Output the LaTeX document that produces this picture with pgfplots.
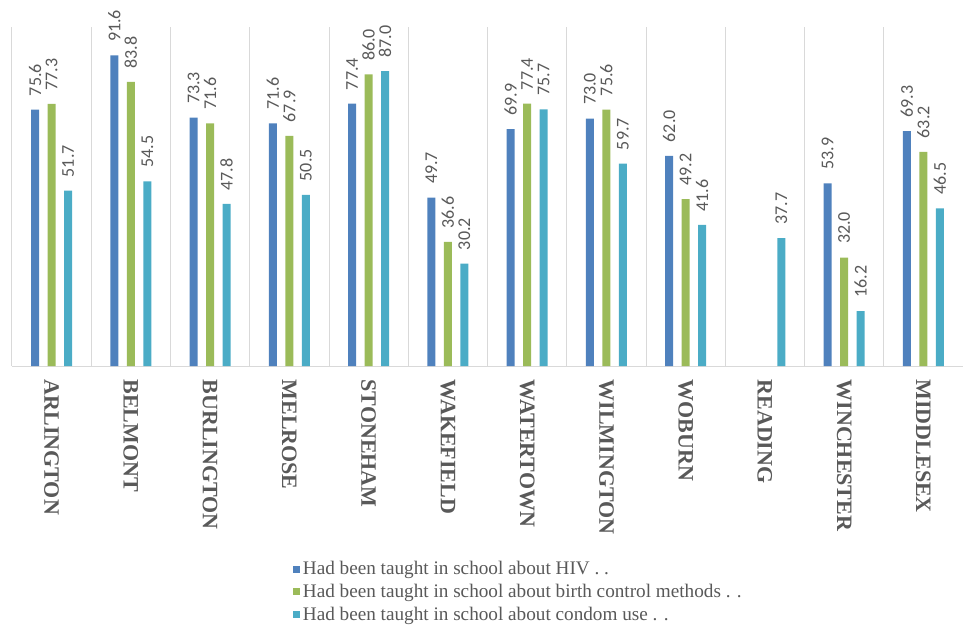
\documentclass[border=0pt]{standalone}
\usepackage{pgfplots}
\pgfplotsset{compat=1.18}
\usepackage{fontspec}
\setmainfont{Liberation Serif}
\newfontfamily\labfont{Carlito}
\definecolor{cblue}{HTML}{4F81BD}
\definecolor{cgreen}{HTML}{9BBB59}
\definecolor{ccyan}{HTML}{4BACC6}
\definecolor{txt}{HTML}{595959}
\definecolor{grd}{HTML}{D9D9D9}
\begin{document}
\begin{tikzpicture}
\path[use as bounding box] (-9pt,-200.25pt) rectangle (713.25pt,274.5pt);
\begin{axis}[
  scale only axis, width=713.25pt, height=254.25pt,
  at={(0,0)}, anchor=south west,
  ybar=6.4pt, bar width=6pt,
  xmin=-0.5, xmax=11.5, ymin=0, ymax=100,
  axis y line=none, axis x line*=bottom,
  x axis line style={grd, line width=0.75pt},
  xtick={0,...,11},
  xticklabels={ARLINGTON,BELMONT,BURLINGTON,MELROSE,STONEHAM,WAKEFIELD,WATERTOWN,WILMINGTON,WOBURN,READING,WINCHESTER,MIDDLESEX},
  minor xtick={-0.5,0.5,...,11.5},
  xminorgrids, minor grid style={grd, line width=0.75pt},
  major tick length=0pt, minor tick length=0pt,
  xticklabel style={rotate=-90, anchor=west, inner xsep=10pt, font=\fontsize{16.5}{18}\selectfont\bfseries, text=txt},
  /pgf/number format/fixed, /pgf/number format/fixed zerofill,
  /pgf/number format/precision=1, /pgf/number format/assume math mode=true,
  nodes near coords,
  nodes near coords style={rotate=90, anchor=west, inner xsep=10pt, inner ysep=0pt, font=\labfont\fontsize{13.5}{15}\selectfont, text=txt},
  legend cell align=left,
  legend style={draw=none, at={(0.2913,-0.560)}, anchor=north west, font=\fontsize{14.4}{16}\selectfont, text=txt, row sep=1.5pt},
  legend image code/.code={\draw[#1,draw=none] (0pt,-2.6pt) rectangle (5.2pt,2.6pt);},
]
\addplot[fill=cblue, draw=none] coordinates {(0,75.6) (1,91.6) (2,73.3) (3,71.6) (4,77.4) (5,49.7) (6,69.9) (7,73.0) (8,62.0) (10,53.9) (11,69.3)};
\addplot[fill=cgreen, draw=none] coordinates {(0,77.3) (1,83.8) (2,71.6) (3,67.9) (4,86.0) (5,36.6) (6,77.4) (7,75.6) (8,49.2) (10,32.0) (11,63.2)};
\addplot[fill=ccyan, draw=none] coordinates {(0,51.7) (1,54.5) (2,47.8) (3,50.5) (4,87.0) (5,30.2) (6,75.7) (7,59.7) (8,41.6) (9,37.7) (10,16.2) (11,46.5)};
\legend{Had been taught in school about HIV . .,Had been taught in school about birth control methods . .,Had been taught in school about condom use . .}
\end{axis}
\end{tikzpicture}
\end{document}
